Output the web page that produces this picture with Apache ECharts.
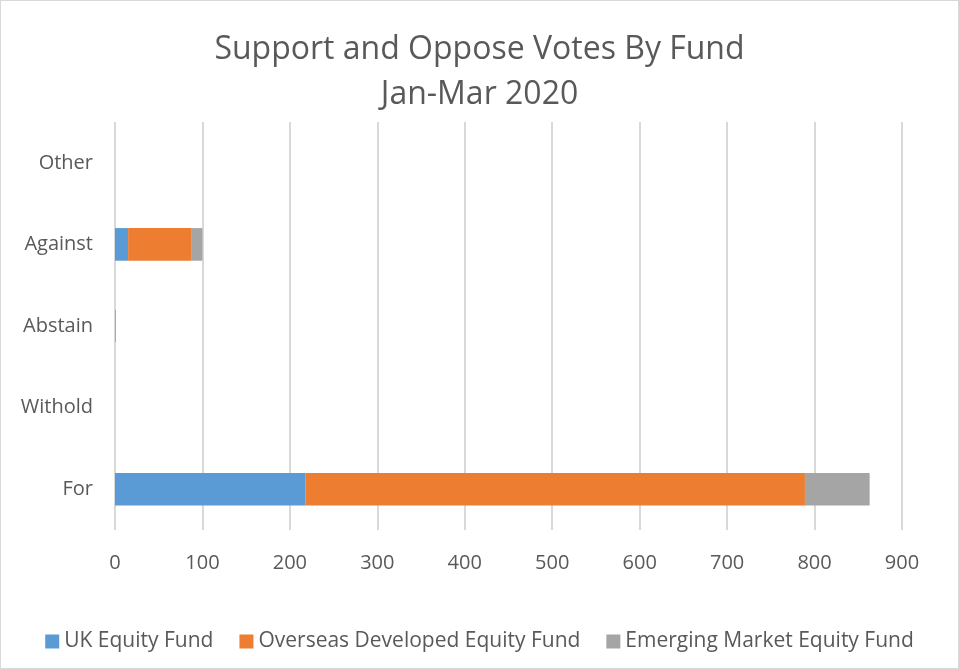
<!DOCTYPE html>
<html><head><meta charset="utf-8">
<script src="https://cdn.jsdelivr.net/npm/echarts@6/dist/echarts.min.js"></script>
<style>html,body{margin:0;padding:0;background:#fff}#c{width:959px;height:669px;box-sizing:border-box;border:1px solid #d9d9d9}</style>
</head><body><div id="c"></div>
<script>
const categories = ['For', 'Withold', 'Abstain', 'Against', 'Other'];
const seriesNames = ['UK Equity Fund', 'Overseas Developed Equity Fund', 'Emerging Market Equity Fund'];
const ukEquity = [218, 0, 0, 15, 0];
const overseasDeveloped = [571, 0, 0, 72, 0];
const emergingMarket = [74, 0, 1, 13, 0];
const colors = ['#5b9bd5', '#ed7d31', '#a5a5a5'];
const font = 'Open Sans';
const chart = echarts.init(document.getElementById('c'));
const data = [ukEquity, overseasDeveloped, emergingMarket];
chart.setOption({
  animation: false,
  title: {
    text: 'Support and Oppose Votes By Fund\nJan-Mar 2020',
    left: 'center', top: 21,
    textStyle: {fontFamily: font, fontSize: 32, fontWeight: 'normal', color: '#595959', lineHeight: 45}
  },
  legend: {
    bottom: 11, left: 'center', itemWidth: 14, itemHeight: 14, itemGap: 26, icon: 'rect',
    textStyle: {fontFamily: font, fontSize: 21, color: '#595959'},
    data: seriesNames
  },
  grid: {left: 114, right: 56, top: 121, bottom: 138, containLabel: false},
  xAxis: {
    type: 'value', min: 0, max: 900, interval: 100,
    axisLine: {show: false}, axisTick: {show: false},
    splitLine: {lineStyle: {color: '#d9d9d9', width: 2}},
    axisLabel: {fontFamily: font, fontSize: 20, color: '#595959', margin: 23}
  },
  yAxis: {
    type: 'category', data: categories,
    axisLine: {show: false}, axisTick: {show: false},
    axisLabel: {fontFamily: font, fontSize: 20, color: '#595959', margin: 22}
  },
  series: seriesNames.map((n, i) => ({
    name: n, type: 'bar', stack: 'total', barWidth: '40%',
    itemStyle: {color: colors[i]}, data: data[i]
  }))
});
</script></body></html>
